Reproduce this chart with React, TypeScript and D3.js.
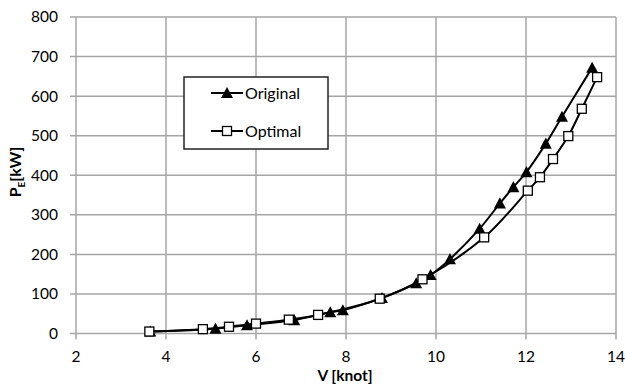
import React from "react";
import * as d3 from "d3";

const originalV = [3.65, 5.1, 5.8, 6.85, 7.65, 7.93, 8.8, 9.56, 9.88, 10.31, 10.97, 11.42, 11.72, 12.01, 12.44, 12.8, 13.47];
const originalP = [5, 12, 21, 34, 54, 59, 90, 127, 148, 188, 265, 329, 370, 408, 480, 548, 672];
const optimalV = [3.63, 4.82, 5.4, 6.0, 6.73, 7.38, 8.75, 9.7, 11.07, 12.04, 12.31, 12.6, 12.94, 13.24, 13.58];
const optimalP = [5, 11, 17, 25, 35, 47, 88, 137, 243, 361, 395, 441, 499, 568, 648];
const xTicks = [2, 4, 6, 8, 10, 12, 14];
const yTicks = [0, 100, 200, 300, 400, 500, 600, 700, 800];

const W = 625, H = 387;
const L = 76, R = 616, T = 17, B = 333.5;
const FONT = "Lato, 'Open Sans', sans-serif";
const GRID = "#a6a6a6";

export default function App() {
  const x = d3.scaleLinear().domain([2, 14]).range([L, R]);
  const y = d3.scaleLinear().domain([0, 800]).range([B, T]);
  const line = d3
    .line<[number, number]>()
    .x((d) => x(d[0]))
    .y((d) => y(d[1]))
    .curve(d3.curveCatmullRom.alpha(0.5));
  const orig: [number, number][] = originalV.map((v, i) => [v, originalP[i]]);
  const opt: [number, number][] = optimalV.map((v, i) => [v, optimalP[i]]);
  const tri = (cx: number, cy: number, s = 6) =>
    `M${cx},${cy - s} L${cx + s},${cy + s * 0.85} L${cx - s},${cy + s * 0.85} Z`;

  return (
    <svg width={W} height={H} style={{ position: "absolute", left: 0, top: 0, background: "#fff" }}>
      <rect x={0} y={0} width={W} height={H} fill="#fff" />
      {yTicks.map((t) => (
        <line key={"gy" + t} x1={L - 6} x2={R} y1={y(t)} y2={y(t)} stroke={GRID} strokeWidth={1.5} />
      ))}
      {xTicks.map((t) => (
        <line key={"gx" + t} x1={x(t)} x2={x(t)} y1={T} y2={B + 6} stroke={GRID} strokeWidth={1.5} />
      ))}
      {yTicks.map((t) => (
        <text key={"ly" + t} x={58} y={y(t)} dy="0.35em" textAnchor="end" fontFamily={FONT} fontSize={15.5} fill="#000">
          {t}
        </text>
      ))}
      {xTicks.map((t) => (
        <text key={"lx" + t} x={x(t)} y={357} dy="0.35em" textAnchor="middle" fontFamily={FONT} fontSize={15.5} fill="#000">
          {t}
        </text>
      ))}
      <text x={345} y={376} dy="0.35em" textAnchor="middle" fontFamily={FONT} fontSize={15.5} fontWeight="bold" fill="#000">
        V [knot]
      </text>
      <text
        transform={`translate(21,172) rotate(-90)`}
        textAnchor="middle"
        fontFamily={FONT}
        fontSize={16}
        fontWeight="bold"
        fill="#000"
      >
        P<tspan fontSize={10} dy={4}>E</tspan>
        <tspan dy={-4}>[kW]</tspan>
      </text>
      <path d={line(opt) || ""} fill="none" stroke="#000" strokeWidth={2} />
      <path d={line(orig) || ""} fill="none" stroke="#000" strokeWidth={2} />
      {orig.map((d, i) => (
        <path key={"t" + i} d={tri(x(d[0]), y(d[1]))} fill="#000" />
      ))}
      {opt.map((d, i) => (
        <rect key={"s" + i} x={x(d[0]) - 4.5} y={y(d[1]) - 4.5} width={9} height={9} fill="#fff" stroke="#000" strokeWidth={1.3} />
      ))}
      <rect x={184} y={77} width={144} height={72} fill="#fff" stroke="#222" strokeWidth={1.5} />
      <line x1={211} x2={243} y1={93} y2={93} stroke="#000" strokeWidth={2} />
      <path d={tri(227, 93)} fill="#000" />
      <text x={245} y={93} dy="0.35em" fontFamily={FONT} fontSize={16} fill="#000">Original</text>
      <line x1={211} x2={243} y1={131} y2={131} stroke="#000" strokeWidth={2} />
      <rect x={222.5} y={126.5} width={9} height={9} fill="#fff" stroke="#000" strokeWidth={1.3} />
      <text x={245} y={131} dy="0.35em" fontFamily={FONT} fontSize={16} fill="#000">Optimal</text>
    </svg>
  );
}
